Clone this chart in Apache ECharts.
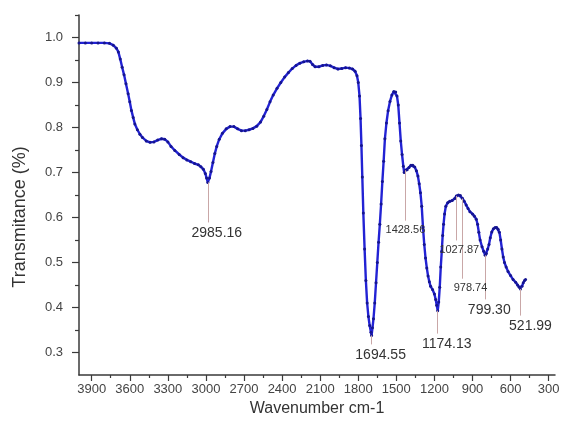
<!DOCTYPE html>
<html><head><meta charset="utf-8">
<script src="https://cdn.jsdelivr.net/npm/echarts@6/dist/echarts.min.js"></script>
<style>html,body{margin:0;padding:0;background:#fff}#c{width:562px;height:425px}</style>
</head><body><div id="c"></div>
<script>
// ---- data ----
const wavenumber = [4000,3950,3900,3850,3800,3760,3730,3705,3690,3675,3660,3645,3630,3613,3600,3587,3573,3560,3540,3520,3500,3470,3440,3410,3380,3350,3325,3300,3275,3245,3210,3180,3150,3120,3090,3060,3040,3020,3005,2995,2985,2972,2960,2945,2930,2915,2895,2870,2840,2810,2780,2750,2720,2690,2660,2630,2600,2570,2545,2520,2495,2470,2440,2410,2380,2350,2320,2290,2260,2230,2200,2180,2160,2140,2110,2080,2050,2020,1990,1960,1930,1900,1870,1845,1825,1810,1800,1790,1782,1775,1768,1760,1750,1740,1730,1720,1710,1700,1695,1688,1680,1670,1660,1650,1640,1630,1620,1610,1600,1590,1578,1565,1550,1535,1520,1505,1495,1485,1475,1465,1455,1445,1438,1428,1415,1400,1385,1370,1355,1342,1330,1320,1310,1300,1290,1280,1270,1260,1250,1240,1230,1215,1200,1190,1182,1174,1166,1158,1150,1142,1135,1128,1120,1110,1095,1080,1060,1040,1027,1010,995,980,965,950,935,920,900,885,870,860,850,840,825,812,800,790,780,770,760,748,735,722,710,698,688,678,668,658,648,635,620,600,580,560,545,532,522,510,500,490,482];
const transmittance = [0.988,0.988,0.988,0.988,0.988,0.987,0.983,0.976,0.968,0.952,0.934,0.917,0.897,0.875,0.857,0.838,0.822,0.808,0.795,0.785,0.778,0.770,0.767,0.768,0.772,0.775,0.774,0.768,0.758,0.749,0.740,0.733,0.728,0.724,0.720,0.717,0.713,0.707,0.698,0.688,0.678,0.688,0.702,0.722,0.742,0.758,0.774,0.787,0.797,0.802,0.802,0.797,0.793,0.793,0.795,0.798,0.803,0.812,0.825,0.840,0.857,0.872,0.887,0.900,0.912,0.922,0.931,0.938,0.943,0.946,0.948,0.947,0.940,0.935,0.935,0.938,0.939,0.937,0.933,0.930,0.931,0.933,0.932,0.930,0.925,0.915,0.900,0.870,0.820,0.760,0.690,0.610,0.530,0.460,0.410,0.380,0.360,0.345,0.338,0.355,0.375,0.410,0.455,0.500,0.545,0.585,0.630,0.680,0.725,0.775,0.810,0.837,0.858,0.872,0.880,0.879,0.870,0.850,0.810,0.770,0.740,0.714,0.700,0.705,0.706,0.711,0.716,0.716,0.712,0.704,0.692,0.675,0.655,0.625,0.578,0.540,0.510,0.488,0.470,0.457,0.447,0.440,0.430,0.418,0.405,0.393,0.412,0.445,0.490,0.525,0.560,0.585,0.608,0.625,0.633,0.636,0.638,0.642,0.648,0.650,0.649,0.643,0.636,0.628,0.620,0.613,0.608,0.603,0.596,0.585,0.567,0.550,0.535,0.525,0.516,0.520,0.530,0.540,0.555,0.568,0.575,0.578,0.578,0.574,0.567,0.550,0.530,0.512,0.500,0.490,0.480,0.471,0.462,0.456,0.450,0.445,0.441,0.447,0.455,0.460,0.462];

const xTickLabels = [3900,3600,3300,3000,2700,2400,2100,1800,1500,1200,900,600,300];
const xMinorTicks = [3750,3450,3150,2850,2550,2250,1950,1650,1350,1050,750,450];
const yTickLabels = [0.3,0.4,0.5,0.6,0.7,0.8,0.9,1.0];
const yMinorTicks = [0.35,0.45,0.55,0.65,0.75,0.85,0.95,1.05];

const peakWavenumber = [2985.16,1694.55,1174.13,1428.56,1027.87,978.74,799.30,521.99];
const peakTop        = [0.678,0.338,0.393,0.705,0.648,0.642,0.516,0.441];
const peakBottom     = [0.589,0.318,0.342,0.593,0.549,0.464,0.418,0.382];
const peakText       = ["2985.16","1694.55","1174.13","1428.56","1027.87","978.74","799.30","521.99"];

// ---- styling ----
const smallLabel = {3:true,4:true,5:true};
const labelShift = [18,18,18,0,6,16,8,20];

const FONT = 'Liberation Sans, Arial, sans-serif';
const AX = '#3a3a3a';

const markData = peakWavenumber.map((w,i)=>[
  {coord:[w, peakTop[i]]},
  {coord:[w, peakBottom[i]], label:{
     formatter: peakText[i],
     fontSize: smallLabel[i] ? 11 : 14,
     padding: [0,0,0,labelShift[i]]
  }}
]);

const baseX = {type:'value', min:250, max:4000, inverse:true, position:'bottom', splitLine:{show:false}};
const baseY = {type:'value', min:0.25, max:1.05, position:'left', splitLine:{show:false}};

const chart = echarts.init(document.getElementById('c'), null, {renderer:'canvas'});
chart.setOption({
  backgroundColor:'#ffffff',
  animation:false,
  grid:{left:79, right:7, top:15, bottom:50, containLabel:false, outerBoundsMode:'none'},
  xAxis:[
    Object.assign({}, baseX, {
      name:'Wavenumber cm-1', nameLocation:'middle', nameGap:23,
      nameTextStyle:{fontFamily:FONT, fontSize:16, color:'#333'},
      axisLine:{show:true, lineStyle:{color:AX, width:1.5}},
      axisTick:{show:true, length:6, customValues:xTickLabels, lineStyle:{color:AX, width:1.2}},
      axisLabel:{show:true, customValues:xTickLabels, margin:8, fontFamily:FONT, fontSize:13, color:'#444',
        formatter:(v)=>String(Math.round(v))}
    }),
    Object.assign({}, baseX, {
      axisLine:{show:false},
      axisTick:{show:true, length:3, customValues:xMinorTicks, lineStyle:{color:AX, width:1.2}},
      axisLabel:{show:false}
    })
  ],
  yAxis:[
    Object.assign({}, baseY, {
      axisLine:{show:true, lineStyle:{color:AX, width:1.5}},
      axisTick:{show:true, length:7, customValues:yTickLabels, lineStyle:{color:AX, width:1.2}},
      axisLabel:{show:true, customValues:yTickLabels, margin:16, fontFamily:FONT, fontSize:13, color:'#444',
        formatter:(v)=>v.toFixed(1)}
    }),
    Object.assign({}, baseY, {
      axisLine:{show:false},
      axisTick:{show:true, length:4, customValues:yMinorTicks, lineStyle:{color:AX, width:1.2}},
      axisLabel:{show:false}
    })
  ],
  graphic:[{
    type:'text', x:20, y:217, rotation:Math.PI/2,
    style:{text:'Transmitance (%)', fontFamily:FONT, fontSize:18, fill:'#333', textAlign:'center', textVerticalAlign:'middle'}
  }],
  series:[{
    type:'line',
    xAxisIndex:0, yAxisIndex:0,
    data: wavenumber.map((w,i)=>[w, transmittance[i]]),
    showSymbol:true, symbol:'circle', symbolSize:3,
    lineStyle:{color:'#2222d4', width:2.4},
    itemStyle:{color:'#15158f'},
    emphasis:{disabled:true},
    markLine:{
      silent:true, symbol:['none','none'], animation:false,
      lineStyle:{color:'#c9a7a7', width:1, type:'solid'},
      label:{show:true, position:'end', distance:4, fontFamily:FONT, color:'#333'},
      data: markData
    }
  }]
});
</script>
</body></html>
